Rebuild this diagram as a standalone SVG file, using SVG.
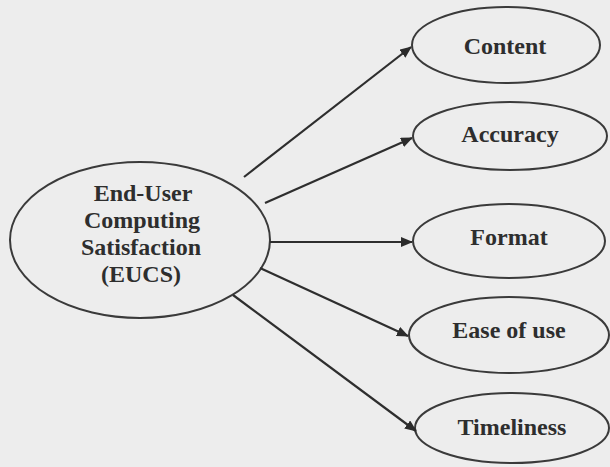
<svg xmlns="http://www.w3.org/2000/svg" width="610" height="467" viewBox="0 0 610 467">
<defs>
<marker id="ah" viewBox="0 0 12 10" refX="11" refY="5" markerWidth="12" markerHeight="10" markerUnits="userSpaceOnUse" orient="auto">
<path d="M0,0 L12,5 L0,10 Z" fill="#2b2b2b"/>
</marker>
</defs>
<style>
.n{fill:none;stroke:#3a3a3a;stroke-width:2}
.t{font-family:'Liberation Serif','DejaVu Serif',serif;font-weight:bold;font-size:24px;fill:#2e2e2e;text-anchor:middle}
.c{stroke:#2e2e2e;stroke-width:2.2;fill:none;marker-end:url(#ah)}
</style>
<rect width="610" height="467" fill="#ededed"/>
<g id="eucs">
<ellipse class="n" cx="140" cy="240" rx="130" ry="78"/>
<text class="t" x="143" y="201">End-User</text>
<text class="t" x="142" y="228">Computing</text>
<text class="t" x="141" y="255">Satisfaction</text>
<text class="t" x="141" y="282">(EUCS)</text>
</g>
<g id="content">
<ellipse class="n" cx="506" cy="45" rx="94" ry="38"/>
<text class="t" x="505" y="54">Content</text>
</g>
<g id="accuracy">
<ellipse class="n" cx="510" cy="136" rx="97" ry="34"/>
<text class="t" x="510" y="142">Accuracy</text>
</g>
<g id="format">
<ellipse class="n" cx="509" cy="241" rx="96" ry="37"/>
<text class="t" x="509" y="245">Format</text>
</g>
<g id="ease">
<ellipse class="n" cx="509" cy="335" rx="100" ry="38"/>
<text class="t" x="509" y="338">Ease of use</text>
</g>
<g id="timeliness">
<ellipse class="n" cx="512" cy="428" rx="97" ry="35"/>
<text class="t" x="512" y="435">Timeliness</text>
</g>
<g id="connectors">
<line class="c" x1="244" y1="177" x2="411" y2="47"/>
<line class="c" x1="265" y1="203" x2="412" y2="138"/>
<line class="c" x1="270" y1="242" x2="412" y2="242"/>
<line class="c" x1="260" y1="268" x2="408" y2="336"/>
<line class="c" x1="233" y1="295" x2="416" y2="431"/>
</g>
</svg>
